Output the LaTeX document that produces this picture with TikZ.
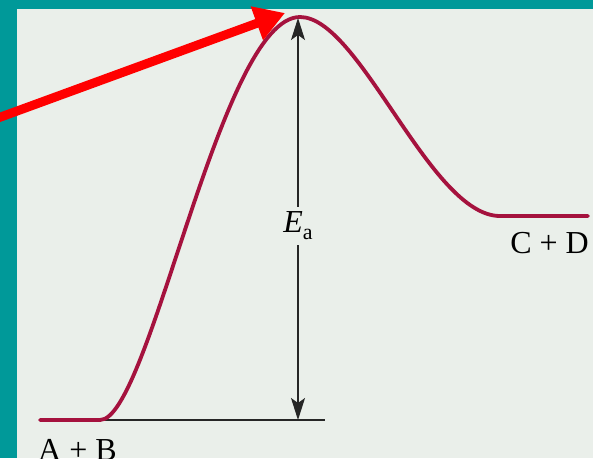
\documentclass[tikz,border=0pt]{standalone}
\usepackage{fontspec}
\setmainfont{Liberation Serif}
\usetikzlibrary{arrows.meta}
\definecolor{teal1}{RGB}{0,153,153}
\definecolor{panel}{RGB}{234,239,234}
\definecolor{curvec}{RGB}{165,18,62}
\begin{document}
\begin{tikzpicture}[x=1pt,y=-1pt,
  curve/.style={draw=curvec,line width=3.8pt,line cap=round},
  lbl/.style={font=\fontsize{32}{36}\selectfont,inner sep=0pt},
  dim/.style={draw=black!85,line width=1.5pt}]
\useasboundingbox (0,0) rectangle (593,458);
\fill[teal1] (0,0) rectangle (593,458);
\fill[panel] (17,9) rectangle (593,458);
\clip (0,0) rectangle (593,458);
% key points
\coordinate (l0) at (40,420);
\coordinate (l1) at (100,420);
\coordinate (pk) at (300,17);
\coordinate (r0) at (500,216);
\coordinate (r1) at (588,216);
\coordinate (base) at (298,420);
\coordinate (top) at (298,18);
\coordinate (bend) at (325,420);
% baseline
\draw[dim] (l1) -- (bend);
% curve
\draw[curve] (l0) -- (l1) .. controls (150,420) and (220,17) .. (pk)
  .. controls (360,17) and (430,216) .. (r0) -- (r1);
% Ea label and arrow
\node[lbl,fill=panel,inner sep=5pt] (ea) at (298,226) {\textit{E}\raisebox{-7pt}{\fontsize{22}{24}\selectfont a}};
\draw[dim,-{Stealth[length=22pt,width=14pt,inset=5pt]}] (ea.north) -- (top);
\draw[dim,-{Stealth[length=22pt,width=14pt,inset=5pt]}] (ea.south) -- (base);
% labels
\node[lbl,anchor=north west] (ab) at (38,439) {A + B};
\node[lbl,anchor=north east] (cd) at (589,232) {C + D};
% red arrow
\coordinate (rs) at (-2,118);
\coordinate (rt) at (285,13);
\draw[red,line width=9pt,-{Triangle[length=30pt,width=34pt]}] (rs) -- (rt);
\end{tikzpicture}
\end{document}
